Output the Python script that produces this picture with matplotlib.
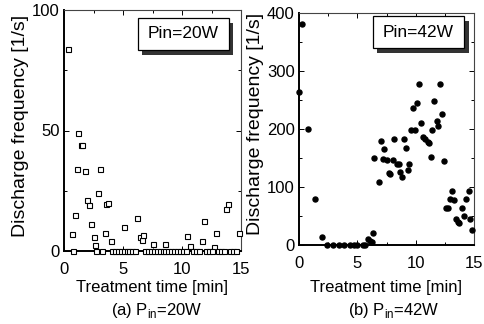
import matplotlib
matplotlib.use("Agg")
import matplotlib.pyplot as plt
from matplotlib.patches import Rectangle
from matplotlib.ticker import MultipleLocator

plt.rcParams['font.family'] = ['Liberation Sans', 'DejaVu Sans']

# ---- data: (a) Pin = 20 W (open squares) ----
t20 = [0.34, 0.65, 0.96, 1.07, 1.19, 1.47, 1.53, 1.78, 1.92, 2.12, 2.26, 2.50, 2.63, 2.90,
       3.05, 3.47, 3.60, 3.70, 3.95, 5.08, 6.20, 6.40, 6.58, 6.70, 7.57, 8.56, 10.40,
       10.70, 11.67, 11.90, 12.70, 12.90, 13.70, 13.90, 14.85]
f20 = [84, 7, 15, 34, 49, 44, 44, 33, 21, 19, 11, 6, 2.5, 24,
       34, 7.5, 19.5, 20, 4.3, 9.8, 13.8, 5.8, 4.4, 6.6, 2.8, 2.8, 6.4,
       2, 4.1, 12.4, 1.7, 7.3, 17.4, 19.4, 7.5]
t20_zero = [0.80, 2.75, 3.20, 4.05, 4.30, 4.55, 4.80, 5.05, 5.30, 5.55, 5.80, 6.05,
            6.85, 7.10, 7.35, 7.60, 7.85, 8.10, 8.35, 8.60, 8.85, 9.10, 9.35, 9.60,
            9.85, 10.10, 10.35, 10.90, 11.20, 11.45, 12.00, 12.25, 12.50, 13.05,
            13.30, 13.55, 14.10, 14.35, 14.60]
f20_zero = [0] * len(t20_zero)

# ---- data: (b) Pin = 42 W (filled circles) ----
t42 = [0.0, 0.25, 0.80, 1.39, 1.94, 2.42, 2.92, 3.39, 3.86, 4.36, 4.72, 4.94, 5.47, 5.64,
       5.94, 6.10, 6.25, 6.36, 6.44, 6.86, 7.00, 7.19, 7.28, 7.56, 7.69, 7.83, 8.03,
       8.11, 8.39, 8.53, 8.67, 8.86, 9.03, 9.14, 9.33, 9.47, 9.56, 9.78, 9.92, 10.14,
       10.25, 10.42, 10.67, 10.83, 11.06, 11.14, 11.30, 11.44, 11.58, 11.80, 11.92,
       12.06, 12.25, 12.44, 12.64, 12.78, 12.97, 13.14, 13.28, 13.44, 13.60, 13.75,
       13.94, 14.17, 14.31, 14.53, 14.64, 14.80]
f42 = [264, 381, 200, 80, 14, 0, 0, 0, 0, 0, 0, 0, 0, 0,
       11, 7, 6, 20, 150, 108, 179, 148, 166, 147, 124, 122, 147,
       183, 140, 140, 126, 117, 182, 167, 130, 140, 199, 237, 199, 245,
       278, 211, 186, 183, 178, 176, 152, 199, 249, 213, 206,
       277, 226, 144, 63, 63, 79, 93, 77, 44, 39, 38,
       63, 50, 79, 93, 44, 26]

xticks = [0, 5, 10, 15]
yticks20 = [0, 50, 100]
yticks42 = [0, 100, 200, 300, 400]
xlabel = "Treatment time [min]"
ylabel = "Discharge frequency [1/s]"

fig = plt.figure(figsize=(4.84, 3.24), dpi=100)
ax1 = fig.add_axes([64/484, 1-251/324, 177/484, 241/324])
ax2 = fig.add_axes([299/484, 1-245/324, 175/484, 232/324])


def style(ax, ymax, ystep):
    ax.set_xlim(0, 15)
    ax.set_ylim(0, ymax)
    for s in ['left', 'bottom']:
        ax.spines[s].set_linewidth(1.4)
        ax.spines[s].set_color('black')
    for s in ['top', 'right']:
        ax.spines[s].set_linewidth(0.8)
        ax.spines[s].set_color('#444444')
    ax.xaxis.set_minor_locator(MultipleLocator(2.5))
    ax.yaxis.set_minor_locator(MultipleLocator(ystep / 2))
    ax.tick_params(which='both', direction='in', top=True, right=True,
                   width=0.7, labelsize=12, colors='black')
    ax.tick_params(which='major', length=3.5)
    ax.tick_params(which='minor', length=2)
    ax.tick_params(axis='x', pad=8)
    ax.tick_params(axis='y', pad=3)
    ax.set_xlabel(xlabel, fontsize=12)
    ax.set_ylabel(ylabel, fontsize=14)


def box(ax, x0, y0, w, h, txt):
    sh = Rectangle((x0 + 0.025, y0 - 0.02), w, h, transform=ax.transAxes,
                   facecolor='#333333', edgecolor='none', zorder=4, clip_on=False)
    bx = Rectangle((x0, y0), w, h, transform=ax.transAxes, facecolor='white',
                   edgecolor='black', linewidth=0.9, zorder=5, clip_on=False)
    ax.add_patch(sh)
    ax.add_patch(bx)
    ax.text(x0 + w / 2, y0 + h / 2, txt, transform=ax.transAxes, ha='center',
            va='center', fontsize=12.5, zorder=6)


# panel (a)
ax1.plot(t20, f20, linestyle='none', marker='s', markersize=3.6, markerfacecolor='white',
         markeredgecolor='black', markeredgewidth=0.8, clip_on=False, zorder=3)
ax1.plot(t20_zero, f20_zero, linestyle='none', marker='s', markersize=3.6,
         markerfacecolor='white', markeredgecolor='black', markeredgewidth=0.8,
         clip_on=False, zorder=3)
style(ax1, 100, 50)
ax1.set_xticks(xticks)
ax1.set_yticks(yticks20)
ax1.xaxis.set_label_coords(0.5, -0.12)
ax1.yaxis.set_label_coords(-0.2, 0.52)
box(ax1, 0.418, 0.834, 0.514, 0.133, "Pin=20W")

# panel (b)
ax2.plot(t42, f42, linestyle='none', marker='o', markersize=3.6, markerfacecolor='black',
         markeredgecolor='black', clip_on=False, zorder=3)
style(ax2, 400, 100)
ax2.set_xticks(xticks)
ax2.set_yticks(yticks42)
ax2.xaxis.set_label_coords(0.5, -0.15)
ax2.yaxis.set_label_coords(-0.2, 0.52)
box(ax2, 0.42, 0.849, 0.525, 0.138, "Pin=42W")

fig.text(157/484, 1-310/324, r"(a) P$_\mathregular{in}$=20W", ha='center', va='center', fontsize=12)
fig.text(394/484, 1-310/324, r"(b) P$_\mathregular{in}$=42W", ha='center', va='center', fontsize=12)

fig.savefig("out.png", dpi=100)
